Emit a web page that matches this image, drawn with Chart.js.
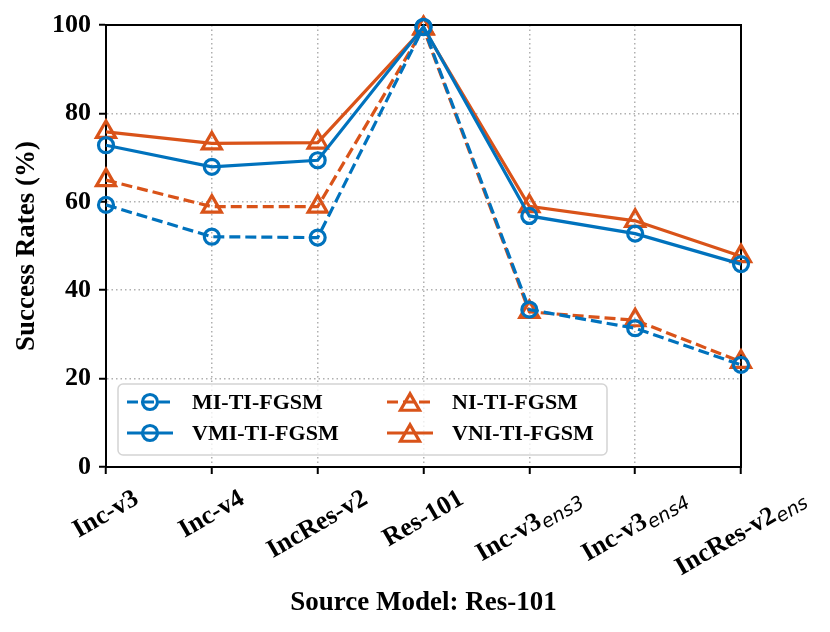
<!DOCTYPE html>
<html>
<head>
<meta charset="utf-8">
<title>Success Rates - Source Model: Res-101</title>
<script src="https://cdn.jsdelivr.net/npm/chart.js@4/dist/chart.umd.min.js"></script>
<style>
  html, body { margin: 0; padding: 0; background: #fff; }
  canvas { display: block; }
</style>
</head>
<body>
<canvas id="myChart" width="830" height="632"></canvas>
<script>
// Data
const categories = ['Inc-v3', 'Inc-v4', 'IncRes-v2', 'Res-101', 'Inc-v3', 'Inc-v3', 'IncRes-v2'];
const subscripts = ['', '', '', '', 'ens3', 'ens4', 'ens'];
const miTiFgsm = [59.3, 52.1, 51.9, 99.5, 35.6, 31.4, 23.1];
const vmiTiFgsm = [72.8, 67.9, 69.4, 99.6, 56.8, 52.8, 45.9];
const niTiFgsm = [64.9, 58.9, 58.9, 99.2, 35.1, 33.2, 23.8];
const vniTiFgsm = [75.8, 73.2, 73.4, 99.3, 59.0, 55.7, 47.7];
const yTicks = [0, 20, 40, 60, 80, 100];

const BLUE = '#0072BD';
const ORANGE = '#D95319';
const SERIF = '"Liberation Serif", "Times New Roman", serif';
const SANS = '"DejaVu Sans", sans-serif';
const DASH = [11, 5];

function series(label, values, color, style, dashed) {
    return {
        label: label,
        data: values,
        borderColor: color,
        borderWidth: 3.2,
        borderDash: dashed ? DASH : [],
        pointStyle: style,
        pointRadius: style === 'triangle' ? 11 : 7.5,
        pointHoverRadius: style === 'triangle' ? 11 : 7.5,
        pointBorderWidth: 3.2,
        pointBorderColor: color,
        pointBackgroundColor: 'rgba(0,0,0,0)',
        tension: 0,
        fill: false,
        clip: false
    };
}

const datasets = [
    series('MI-TI-FGSM', miTiFgsm, BLUE, 'circle', true),
    series('VMI-TI-FGSM', vmiTiFgsm, BLUE, 'circle', false),
    series('NI-TI-FGSM', niTiFgsm, ORANGE, 'triangle', true),
    series('VNI-TI-FGSM', vniTiFgsm, ORANGE, 'triangle', false)
];

// solid frame round the plot area (matplotlib style box)
const framePlugin = {
    id: 'frame',
    beforeDatasetsDraw(chart) {
        const a = chart.chartArea;
        const ctx = chart.ctx;
        ctx.save();
        ctx.strokeStyle = '#000';
        ctx.lineWidth = 2;
        ctx.setLineDash([]);
        ctx.strokeRect(a.left, a.top, a.right - a.left, a.bottom - a.top);
        ctx.restore();
    }
};

// rotated x tick labels with subscripts
const xLabelPlugin = {
    id: 'xLabels',
    afterDraw(chart) {
        const ctx = chart.ctx;
        const xs = chart.scales.x;
        const mainFont = 'bold 26px ' + SERIF;
        const subFont = 'italic 19px ' + SANS;
        const ang = Math.PI / 6;
        const top = xs.top + 21;
        ctx.save();
        ctx.fillStyle = '#000';
        ctx.textBaseline = 'alphabetic';
        ctx.textAlign = 'left';
        categories.forEach((c, i) => {
            const x = xs.getPixelForTick(i);
            ctx.font = mainFont;
            const wm = ctx.measureText(c).width;
            let ws = 0;
            if (subscripts[i]) {
                ctx.font = subFont;
                ws = ctx.measureText(subscripts[i]).width + 1;
            }
            const w = wm + ws;
            const hv = 17;
            const H = w * Math.sin(ang) + hv * Math.cos(ang);
            ctx.save();
            ctx.translate(x - 1, top + H / 2);
            ctx.rotate(-ang);
            ctx.font = mainFont;
            ctx.fillText(c, -w / 2, 8.5);
            if (subscripts[i]) {
                ctx.font = subFont;
                ctx.fillText(subscripts[i], -w / 2 + wm + 1, 12.5);
            }
            ctx.restore();
        });
        ctx.restore();
    }
};

// matplotlib-like legend, two columns inside the plot
const legendPlugin = {
    id: 'mplLegend',
    afterDatasetsDraw(chart) {
        const ctx = chart.ctx;
        const box = { x: 118, y: 384, w: 489, h: 71, r: 5 };
        ctx.save();
        ctx.beginPath();
        ctx.roundRect(box.x, box.y, box.w, box.h, box.r);
        ctx.fillStyle = 'rgba(255,255,255,0.8)';
        ctx.fill();
        ctx.strokeStyle = '#d4d4d4';
        ctx.lineWidth = 1.5;
        ctx.stroke();

        const slots = [
            { x: 127, y: 402 }, { x: 127, y: 433 },
            { x: 387, y: 402 }, { x: 387, y: 433 }
        ];
        chart.data.datasets.forEach((ds, i) => {
            const s = slots[i];
            const x0 = s.x, x1 = s.x + 46, cx = s.x + 23;
            ctx.strokeStyle = ds.borderColor;
            ctx.lineWidth = ds.borderWidth;
            ctx.setLineDash(ds.borderDash);
            ctx.beginPath();
            ctx.moveTo(x0, s.y);
            ctx.lineTo(x1, s.y);
            ctx.stroke();
            ctx.setLineDash([]);
            ctx.beginPath();
            if (ds.pointStyle === 'triangle') {
                const r = ds.pointRadius;
                const dx = r * Math.sin(Math.PI / 3);
                ctx.moveTo(cx, s.y - r * 0.75);
                ctx.lineTo(cx - dx, s.y + r * 0.75);
                ctx.lineTo(cx + dx, s.y + r * 0.75);
                ctx.closePath();
            } else {
                ctx.arc(cx, s.y, ds.pointRadius, 0, Math.PI * 2);
            }
            ctx.stroke();
            ctx.fillStyle = '#000';
            ctx.font = 'bold 22px ' + SERIF;
            ctx.textBaseline = 'middle';
            ctx.textAlign = 'left';
            ctx.fillText(ds.label, s.x + 65, s.y + 1);
        });
        ctx.restore();
    }
};

const config = {
    type: 'line',
    data: {
        labels: categories.map((c, i) => c + subscripts[i]),
        datasets: datasets
    },
    options: {
        responsive: false,
        animation: false,
        layout: {
            padding: { top: 25, right: 89, left: 0, bottom: 0 }
        },
        scales: {
            x: {
                offset: false,
                ticks: { display: false },
                grid: {
                    color: '#b0b0b0',
                    lineWidth: 1.5,
                    tickColor: '#000',
                    tickWidth: 2,
                    tickLength: 7
                },
                border: { color: '#000', width: 2, dash: [1.5, 3] },
                title: {
                    display: true,
                    text: 'Source Model: Res-101',
                    color: '#000',
                    font: { family: SERIF, weight: 'bold', size: 27 },
                    padding: { top: 0, bottom: 13 }
                },
                afterFit(scale) { scale.height = 165; }
            },
            y: {
                min: 0,
                max: 100,
                afterBuildTicks(scale) {
                    scale.ticks = yTicks.map(v => ({ value: v }));
                },
                ticks: {
                    color: '#000',
                    padding: 8,
                    font: { family: SERIF, weight: 'bold', size: 26 }
                },
                grid: {
                    color: '#b0b0b0',
                    lineWidth: 1.5,
                    tickColor: '#000',
                    tickWidth: 2,
                    tickLength: 7
                },
                border: { color: '#000', width: 2, dash: [1.5, 3] },
                title: {
                    display: true,
                    text: 'Success Rates (%)',
                    color: '#000',
                    font: { family: SERIF, weight: 'bold', size: 27 },
                    padding: { top: 11, bottom: 0 }
                },
                afterFit(scale) { scale.width = 106; }
            }
        },
        plugins: {
            legend: { display: false },
            tooltip: { enabled: false }
        }
    },
    plugins: [framePlugin, legendPlugin, xLabelPlugin]
};

const context = document.getElementById('myChart').getContext('2d');
const myChart = new Chart(context, config);
</script>
</body>
</html>
